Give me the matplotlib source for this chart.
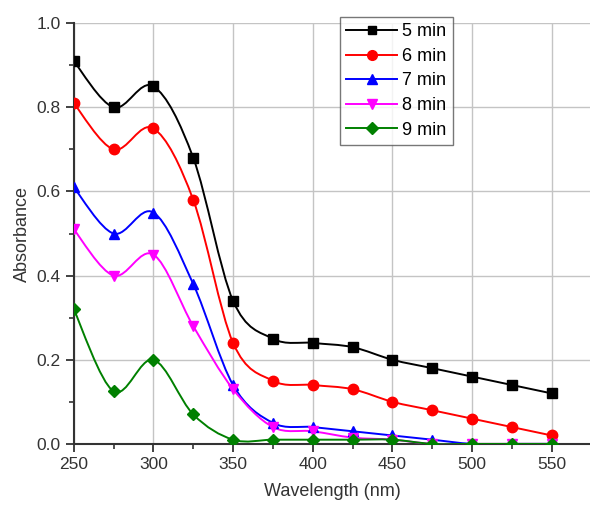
import numpy as np
import matplotlib
matplotlib.use("Agg")
from matplotlib import pyplot as plt
from matplotlib.path import Path
from matplotlib.patches import PathPatch
from matplotlib.lines import Line2D

plt.rcParams['font.family'] = ['Liberation Sans', 'DejaVu Sans']

# wavelength (nm)
wavelength = [250, 275, 300, 325, 350, 375, 400, 425, 450, 475, 500, 525, 550]
# absorbance
abs_5 = [0.91, 0.80, 0.85, 0.68, 0.34, 0.25, 0.24, 0.23, 0.20, 0.18, 0.16, 0.14, 0.12]
abs_6 = [0.81, 0.70, 0.75, 0.58, 0.24, 0.15, 0.14, 0.13, 0.10, 0.08, 0.06, 0.04, 0.02]
abs_7 = [0.61, 0.50, 0.55, 0.38, 0.14, 0.05, 0.04, 0.03, 0.02, 0.01, 0.0, 0.0, 0.0]
abs_8 = [0.51, 0.40, 0.45, 0.28, 0.13, 0.04, 0.03, 0.015, 0.01, 0.0, 0.0, 0.0, 0.0]
abs_9 = [0.32, 0.125, 0.20, 0.07, 0.01, 0.01, 0.01, 0.01, 0.01, 0.0, 0.0, 0.0, 0.0]

labels = ['5 min', '6 min', '7 min', '8 min', '9 min']
series = [abs_5, abs_6, abs_7, abs_8, abs_9]
colors = ['black', 'red', 'blue', 'magenta', 'green']
markers = ['s', 'o', '^', 'v', 'D']
msizes = [6.5, 7.5, 7.5, 7.5, 6.5]


def smooth_path(x, y):
    # catmull-rom through the points, drawn as bezier segments
    x = np.asarray(x, float)
    y = np.asarray(y, float)
    verts = [(x[0], y[0])]
    codes = [Path.MOVETO]
    n = len(x)
    for i in range(n - 1):
        x0, y0 = (x[i - 1], y[i - 1]) if i > 0 else (x[i], y[i])
        x3, y3 = (x[i + 2], y[i + 2]) if i + 2 < n else (x[i + 1], y[i + 1])
        c1 = (x[i] + (x[i + 1] - x0) / 6, y[i] + (y[i + 1] - y0) / 6)
        c2 = (x[i + 1] - (x3 - x[i]) / 6, y[i + 1] - (y3 - y[i]) / 6)
        verts += [c1, c2, (x[i + 1], y[i + 1])]
        codes += [Path.CURVE4] * 3
    return Path(verts, codes)


fig = plt.figure(figsize=(5.9, 5.05), dpi=100)
ax = fig.add_axes([0.125, 0.121, 0.875, 0.833])

handles = []
for ys, c, m, ms, lab in zip(series, colors, markers, msizes, labels):
    ax.add_patch(PathPatch(smooth_path(wavelength, ys), facecolor='none',
                           edgecolor=c, lw=1.4, zorder=3))
    ax.plot(wavelength, ys, ls='none', marker=m, ms=ms, color=c, zorder=4, clip_on=True)
    handles.append(Line2D([], [], color=c, lw=1.4, marker=m, ms=ms - 0.5, label=lab))

ax.set_xlim(250, 574)
ax.set_ylim(0, 1.0)
ax.set_xticks([250, 300, 350, 400, 450, 500, 550])
ax.set_xticks([275, 325, 375, 425, 475, 525], minor=True)
ax.set_yticks([0.0, 0.2, 0.4, 0.6, 0.8, 1.0])
ax.set_yticks([0.1, 0.3, 0.5, 0.7, 0.9], minor=True)
ax.yaxis.set_major_formatter(matplotlib.ticker.FormatStrFormatter('%.1f'))
ax.grid(True, which='major', color='#c4c4c4', lw=1)
ax.set_axisbelow(True)

for s in ['top', 'right']:
    ax.spines[s].set_visible(False)
for s in ['left', 'bottom']:
    ax.spines[s].set_linewidth(1.5)
    ax.spines[s].set_color('#333333')
ax.tick_params(which='major', direction='out', length=6, width=1.3,
               labelsize=12.5, colors='#333333', labelcolor='#333333')
ax.tick_params(which='minor', direction='out', length=3.5, width=1.2, colors='#333333')

ax.set_xlabel('Wavelength (nm)', fontsize=13, color='#333333', labelpad=8)
ax.set_ylabel('Absorbance', fontsize=13, color='#333333', labelpad=4)

leg = ax.legend(handles=handles, loc='upper left', bbox_to_anchor=(340 / 590, 1 - 17 / 505),
                bbox_transform=fig.transFigure, fontsize=13, frameon=True, fancybox=False,
                edgecolor='#555555', handlelength=2.8, handletextpad=0.3,
                labelspacing=0.42, borderpad=0.35, borderaxespad=0)
leg.get_frame().set_linewidth(1)

fig.savefig('out.png', dpi=100)
